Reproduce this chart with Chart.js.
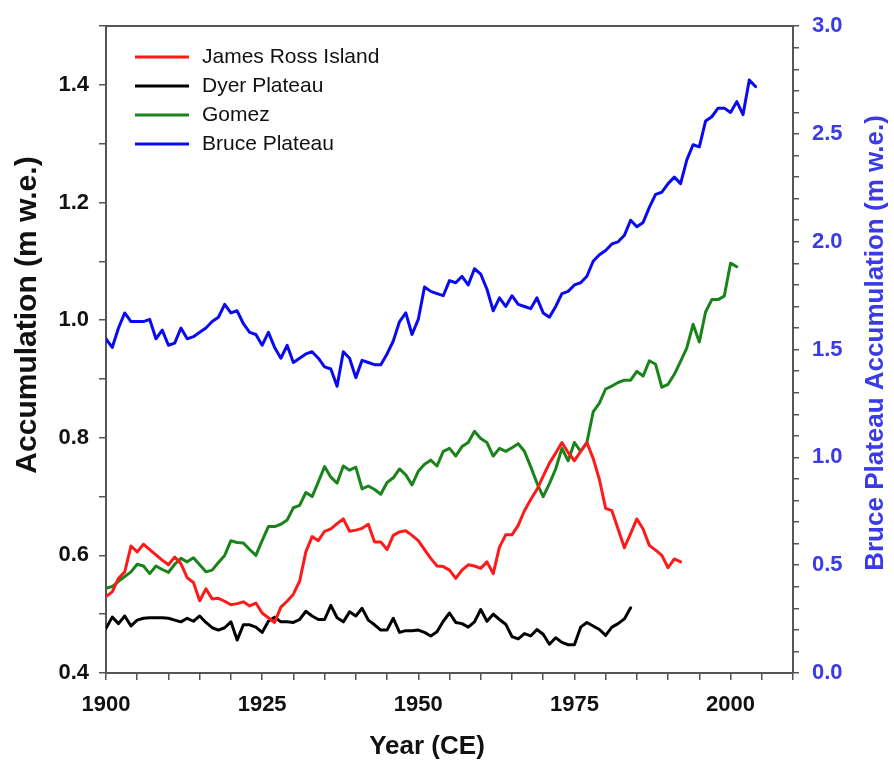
<!DOCTYPE html>
<html>
<head>
<meta charset="utf-8">
<script src="https://cdn.jsdelivr.net/npm/chart.js@4.4.1/dist/chart.umd.min.js"></script>
<style>
  html, body { margin: 0; padding: 0; background: #ffffff; }
  #wrap { width: 894px; height: 763px; }
</style>
</head>
<body>
<div id="wrap"><canvas id="c" width="894" height="763"></canvas></div>
<script>
// ---- Data ----
const seriesNames = ['James Ross Island', 'Dyer Plateau', 'Gomez', 'Bruce Plateau'];
const seriesColors = ['#ff1a1a', '#000000', '#1a841a', '#0a0af0'];

const jriStartYear = 1900;
const jriValues = [
  0.530, 0.538, 0.561, 0.572, 0.616, 0.606, 0.619, 0.610, 0.601, 0.592,
  0.584, 0.597, 0.586, 0.562, 0.554, 0.523, 0.543, 0.526, 0.527, 0.522,
  0.516, 0.518, 0.521, 0.514, 0.519, 0.502, 0.494, 0.486, 0.512, 0.522,
  0.534, 0.556, 0.606, 0.632, 0.625, 0.641, 0.645, 0.654, 0.662, 0.641,
  0.643, 0.646, 0.653, 0.623, 0.623, 0.610, 0.634, 0.640, 0.642, 0.634,
  0.625, 0.610, 0.595, 0.582, 0.581, 0.575, 0.561, 0.575, 0.584, 0.582,
  0.578, 0.589, 0.569, 0.614, 0.635, 0.635, 0.651, 0.676, 0.695, 0.712,
  0.735, 0.757, 0.774, 0.792, 0.775, 0.761, 0.777, 0.792, 0.765, 0.729,
  0.680, 0.676, 0.645, 0.613, 0.637, 0.662, 0.645, 0.617, 0.609, 0.600,
  0.579, 0.594, 0.589
];

const dyerStartYear = 1900;
const dyerValues = [
  0.476, 0.495, 0.484, 0.497, 0.480, 0.490, 0.493, 0.494, 0.494, 0.494,
  0.493, 0.490, 0.487, 0.493, 0.488, 0.497, 0.486, 0.477, 0.473, 0.477,
  0.487, 0.456, 0.482, 0.482, 0.478, 0.469, 0.488, 0.495, 0.487, 0.487,
  0.486, 0.491, 0.505, 0.497, 0.491, 0.491, 0.515, 0.494, 0.487, 0.504,
  0.497, 0.510, 0.490, 0.482, 0.473, 0.473, 0.493, 0.469, 0.472, 0.472,
  0.473, 0.469, 0.463, 0.470, 0.488, 0.502, 0.486, 0.484, 0.478, 0.487,
  0.508, 0.488, 0.500, 0.491, 0.483, 0.462, 0.458, 0.467, 0.463, 0.474,
  0.466, 0.449, 0.460, 0.452, 0.448, 0.448, 0.478, 0.486, 0.480, 0.474,
  0.464, 0.478, 0.484, 0.492, 0.511
];

const gomezStartYear = 1900;
const gomezValues = [
  0.544, 0.547, 0.556, 0.564, 0.572, 0.585, 0.582, 0.569, 0.582, 0.576,
  0.571, 0.585, 0.595, 0.589, 0.596, 0.584, 0.572, 0.575, 0.588, 0.600,
  0.625, 0.622, 0.621, 0.610, 0.600, 0.625, 0.649, 0.649, 0.653, 0.660,
  0.681, 0.685, 0.707, 0.700, 0.725, 0.751, 0.733, 0.723, 0.752, 0.745,
  0.750, 0.713, 0.718, 0.712, 0.704, 0.724, 0.732, 0.747, 0.737, 0.720,
  0.743, 0.755, 0.762, 0.752, 0.777, 0.782, 0.769, 0.785, 0.792, 0.811,
  0.799, 0.792, 0.769, 0.782, 0.777, 0.783, 0.790, 0.777, 0.751, 0.723,
  0.700, 0.722, 0.747, 0.782, 0.761, 0.792, 0.777, 0.792, 0.844, 0.859,
  0.883, 0.888, 0.894, 0.898, 0.898, 0.913, 0.905, 0.931, 0.925, 0.886,
  0.891, 0.908, 0.930, 0.953, 0.993, 0.963, 1.014, 1.035, 1.035, 1.041,
  1.097, 1.091
];

const bruceStartYear = 1900;
const bruceValues = [
  1.55, 1.51, 1.60, 1.67, 1.63, 1.63, 1.63, 1.64, 1.55, 1.59,
  1.52, 1.53, 1.60, 1.55, 1.56, 1.58, 1.60, 1.63, 1.65, 1.71,
  1.67, 1.68, 1.62, 1.58, 1.57, 1.52, 1.58, 1.51, 1.46, 1.52,
  1.44, 1.46, 1.48, 1.49, 1.46, 1.42, 1.41, 1.33, 1.49, 1.46,
  1.37, 1.45, 1.44, 1.43, 1.43, 1.48, 1.54, 1.63, 1.67, 1.57,
  1.64, 1.79, 1.77, 1.76, 1.75, 1.82, 1.81, 1.84, 1.80, 1.875,
  1.85, 1.78, 1.68, 1.74, 1.70, 1.75, 1.71, 1.70, 1.69, 1.74,
  1.67, 1.65, 1.70, 1.76, 1.77, 1.80, 1.81, 1.84, 1.91, 1.94,
  1.96, 1.99, 2.00, 2.03, 2.10, 2.07, 2.09, 2.16, 2.22, 2.23,
  2.27, 2.30, 2.27, 2.38, 2.45, 2.44, 2.56, 2.58, 2.62, 2.62,
  2.60, 2.65, 2.59, 2.75, 2.72
];

// Axis tick definitions
const xMin = 1900, xMax = 2010, xMinorStep = 5, xMajorStep = 25;
const yLeftMin = 0.4, yLeftMax = 1.5;
const yRightMin = 0.0, yRightMax = 3.0;

const axisTitleLeft = 'Accumulation (m w.e.)';
const axisTitleRight = 'Bruce Plateau Accumulation (m w.e.)';
const axisTitleX = 'Year (CE)';

function toPoints(start, vals) {
  return vals.map((v, i) => ({ x: start + i, y: v }));
}

const FONT = '"Liberation Sans", Arial, Helvetica, sans-serif';
const AXIS_COLOR = '#555555';
const RIGHT_LABEL_COLOR = '#3a3ae6';

const overlayPlugin = {
  id: 'overlay',
  afterDraw(chart) {
    const ctx = chart.ctx;
    ctx.save();
    // axis titles
    ctx.fillStyle = '#111111';
    ctx.textAlign = 'center';
    ctx.textBaseline = 'middle';
    ctx.save();
    ctx.font = 'bold 30px ' + FONT;
    ctx.translate(28, 315);
    ctx.rotate(-Math.PI / 2);
    ctx.fillText(axisTitleLeft, 0, 0);
    ctx.restore();

    ctx.save();
    ctx.fillStyle = RIGHT_LABEL_COLOR;
    ctx.font = 'bold 26px ' + FONT;
    ctx.translate(876, 343);
    ctx.rotate(-Math.PI / 2);
    ctx.fillText(axisTitleRight, 0, 0);
    ctx.restore();

    ctx.font = 'bold 26px ' + FONT;
    ctx.fillText(axisTitleX, 427, 747);

    // legend
    ctx.font = '21px ' + FONT;
    ctx.textAlign = 'left';
    chart.data.datasets.forEach((ds, i) => {
      const y = 57 + 29 * i;
      ctx.strokeStyle = ds.borderColor;
      ctx.lineWidth = 3;
      ctx.beginPath();
      ctx.moveTo(135, y);
      ctx.lineTo(189, y);
      ctx.stroke();
      ctx.fillStyle = '#111111';
      ctx.fillText(ds.label, 202, y);
    });
    ctx.restore();
  }
};

const commonLine = { pointRadius: 0, borderWidth: 3, tension: 0, fill: false, borderJoinStyle: 'round', borderCapStyle: 'round' };

new Chart(document.getElementById('c'), {
  type: 'line',
  data: {
    datasets: [
      Object.assign({ label: seriesNames[0], data: toPoints(jriStartYear, jriValues), borderColor: seriesColors[0], yAxisID: 'y' }, commonLine),
      Object.assign({ label: seriesNames[1], data: toPoints(dyerStartYear, dyerValues), borderColor: seriesColors[1], yAxisID: 'y' }, commonLine),
      Object.assign({ label: seriesNames[2], data: toPoints(gomezStartYear, gomezValues), borderColor: seriesColors[2], yAxisID: 'y' }, commonLine),
      Object.assign({ label: seriesNames[3], data: toPoints(bruceStartYear, bruceValues), borderColor: seriesColors[3], yAxisID: 'y2' }, commonLine)
    ]
  },
  options: {
    responsive: false,
    animation: false,
    devicePixelRatio: 1,
    layout: { padding: { top: 17, left: 0, right: 0, bottom: 0 } },
    plugins: { legend: { display: false }, tooltip: { enabled: false } },
    scales: {
      x: {
        type: 'linear', position: 'bottom', min: xMin, max: xMax,
        afterFit(s) { s.height = 90; },
        border: { display: true, color: AXIS_COLOR, width: 2 },
        grid: { display: true, drawOnChartArea: false, drawTicks: true, tickLength: 7, color: AXIS_COLOR, lineWidth: 1.5 },
        ticks: {
          stepSize: xMinorStep, autoSkip: false, maxRotation: 0, minRotation: 0, padding: 12,
          color: '#111111', font: { family: FONT, size: 22, weight: 'bold' },
          callback: (v) => (Math.round(v) % xMajorStep === 0 && Math.round(v) <= 2000) ? String(Math.round(v)) : ''
        }
      },
      xTop: {
        type: 'linear', position: 'top', min: xMin, max: xMax,
        afterFit(s) { s.height = 0; },
        border: { display: true, color: AXIS_COLOR, width: 2 },
        grid: { display: false, drawTicks: false },
        ticks: { display: false }
      },
      y: {
        type: 'linear', position: 'left', min: yLeftMin, max: yLeftMax,
        afterFit(s) { s.width = 106; },
        border: { display: true, color: AXIS_COLOR, width: 2 },
        grid: { display: true, drawOnChartArea: false, drawTicks: true, tickLength: 7, color: AXIS_COLOR, lineWidth: 1.5 },
        ticks: {
          stepSize: 0.1, autoSkip: false, padding: 10,
          color: '#111111', font: { family: FONT, size: 22, weight: 'bold' },
          callback: (v) => { const k = Math.round(v * 10); return (k % 2 === 0 && k <= 14) ? (k / 10).toFixed(1) : ''; }
        }
      },
      y2: {
        type: 'linear', position: 'right', min: yRightMin, max: yRightMax,
        afterFit(s) { s.width = 101; },
        border: { display: true, color: AXIS_COLOR, width: 2 },
        grid: { display: true, drawOnChartArea: false, drawTicks: true, tickLength: 6, color: AXIS_COLOR, lineWidth: 1.5 },
        ticks: {
          stepSize: 0.1, autoSkip: false, padding: 13,
          color: RIGHT_LABEL_COLOR, font: { family: FONT, size: 22, weight: 'bold' },
          callback: (v) => { const k = Math.round(v * 10); return (k % 5 === 0) ? (k / 10).toFixed(1) : ''; }
        }
      }
    }
  },
  plugins: [overlayPlugin]
});
</script>
</body>
</html>
